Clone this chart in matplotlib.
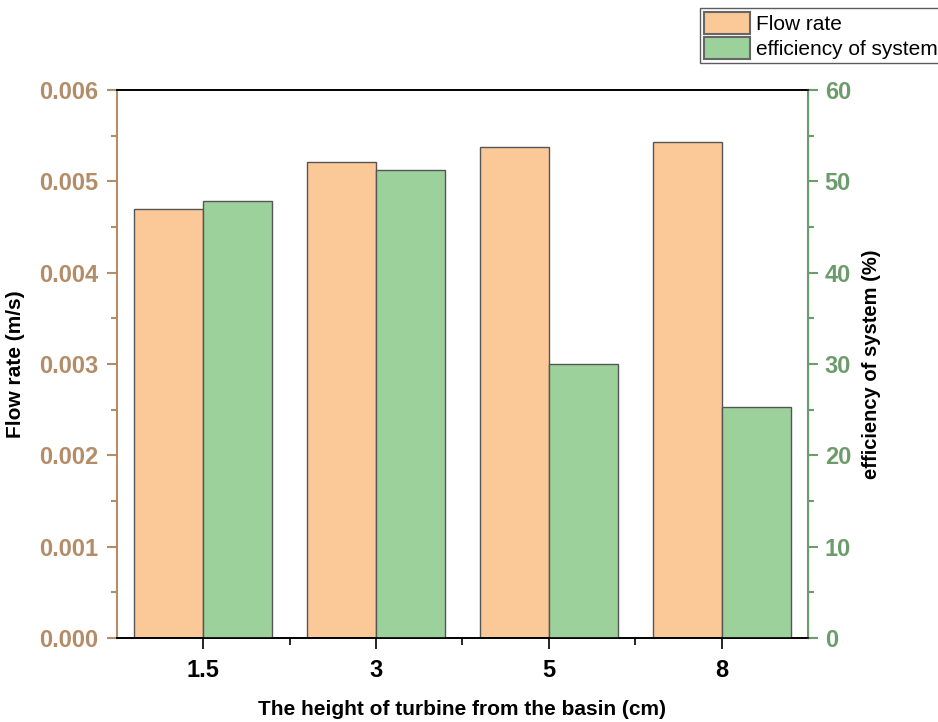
import matplotlib.pyplot as plt
import matplotlib.ticker as ticker
import numpy as np

# datos
alturas = ['1.5', '3', '5', '8']
caudal = [0.00470, 0.00521, 0.00538, 0.00543]
eficiencia = [47.8, 51.2, 30.0, 25.3]

col_caudal = '#fbc898'
col_efi = '#9dd19b'
col_izq = '#b38c68'
col_der = '#6d9c6c'

plt.rcParams['font.family'] = ['Liberation Sans', 'DejaVu Sans']

fig = plt.figure(figsize=(9.38, 7.22), dpi=100)
ax = fig.add_axes([0.1247, 0.1163, 0.7367, 0.759])
ax2 = ax.twinx()

x = np.arange(len(alturas))
ancho = 0.4
b1 = ax.bar(x - ancho / 2, caudal, ancho, color=col_caudal, edgecolor='#555555', linewidth=1, label='Flow rate')
b2 = ax2.bar(x + ancho / 2, eficiencia, ancho, color=col_efi, edgecolor='#555555', linewidth=1, label='efficiency of system')

ax.set_xlim(-0.5, 3.5)
ax.set_ylim(0, 0.006)
ax2.set_ylim(0, 60)

ax.set_xticks(x)
ax.set_xticklabels(alturas, fontsize=17, fontweight='bold')
ax.xaxis.set_minor_locator(ticker.FixedLocator([0.5, 1.5, 2.5]))
ax.tick_params(axis='x', which='major', length=8, width=1.2, pad=7)
ax.tick_params(axis='x', which='minor', length=5, width=1.2)

ax.yaxis.set_major_locator(ticker.MultipleLocator(0.001))
ax.yaxis.set_minor_locator(ticker.MultipleLocator(0.0005))
ax.yaxis.set_major_formatter(ticker.FormatStrFormatter('%.3f'))
ax.tick_params(axis='y', which='major', length=7, width=1.5, color=col_izq, labelcolor=col_izq, labelsize=17, pad=6.5)
ax.tick_params(axis='y', which='minor', length=4.5, width=1.5, color=col_izq)
for t in ax.get_yticklabels():
    t.set_fontweight('bold')

ax2.yaxis.set_major_locator(ticker.MultipleLocator(10))
ax2.yaxis.set_minor_locator(ticker.MultipleLocator(5))
ax2.tick_params(axis='y', which='major', length=7, width=1.5, color=col_der, labelcolor=col_der, labelsize=17, pad=5)
ax2.tick_params(axis='y', which='minor', length=4.5, width=1.5, color=col_der)
for t in ax2.get_yticklabels():
    t.set_fontweight('bold')

ax.spines['left'].set_color(col_izq)
ax.spines['left'].set_linewidth(1.5)
ax2.spines['right'].set_color(col_der)
ax2.spines['right'].set_linewidth(1.5)
ax2.spines['left'].set_visible(False)
for s in ['top', 'bottom']:
    ax.spines[s].set_linewidth(1.2)
    ax2.spines[s].set_linewidth(1.2)

ax.set_ylabel('Flow rate (m/s)', fontsize=15, fontweight='bold', labelpad=10)
ax2.set_ylabel('efficiency of system (%)', fontsize=14.5, fontweight='bold', labelpad=8)
ax.set_xlabel('The height of turbine from the basin (cm)', fontsize=15, fontweight='bold', labelpad=13)

leg = fig.legend(handles=[b1, b2], loc='upper left', bbox_to_anchor=(0.7463, 0.989),
                 fontsize=15, frameon=True, fancybox=False, edgecolor='#333333',
                 handlelength=2.2, handleheight=1.25, handletextpad=0.3,
                 borderpad=0.2, labelspacing=0.15, borderaxespad=0.0)
leg.get_frame().set_linewidth(1)
for h in leg.legend_handles:
    h.set_edgecolor('#666666')
    h.set_linewidth(1.5)

fig.savefig('out.png', dpi=100)
